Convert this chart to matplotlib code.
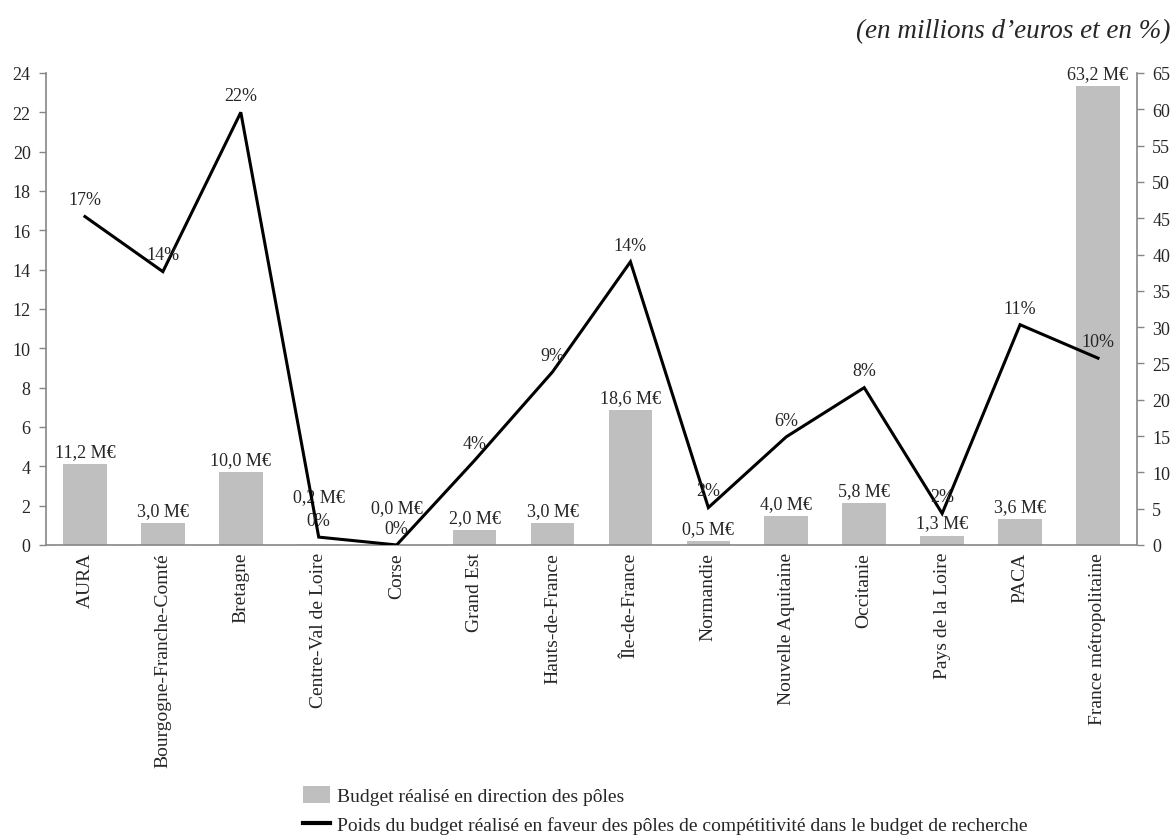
import matplotlib.pyplot as plt
from matplotlib.patches import Patch
from matplotlib.lines import Line2D

plt.rcParams['font.family'] = ['Liberation Serif', 'DejaVu Serif']

regions = ["AURA", "Bourgogne-Franche-Comté", "Bretagne", "Centre-Val de Loire", "Corse",
           "Grand Est", "Hauts-de-France", "Île-de-France", "Normandie", "Nouvelle Aquitaine",
           "Occitanie", "Pays de la Loire", "PACA", "France métropolitaine"]
# budget réalisé (M€), axe de droite
budget = [11.2, 3.0, 10.0, 0.2, 0.0, 2.0, 3.0, 18.6, 0.5, 4.0, 5.8, 1.3, 3.6, 63.2]
# poids dans le budget de recherche (%), axe de gauche
poids = [16.7, 13.9, 22.0, 0.4, 0.0, 4.3, 8.8, 14.4, 1.9, 5.5, 8.0, 1.6, 11.2, 9.5]
poids_labels = ["17%", "14%", "22%", "0%", "0%", "4%", "9%", "14%", "2%", "6%", "8%", "2%", "11%", "10%"]

grey = "#BFBFBF"
spine = "#868686"
txt = "#262626"

fig = plt.figure(figsize=(11.76, 8.37), dpi=100)
ax = fig.add_axes([0.0391, 0.3477, 0.9277, 0.5639])
ax2 = ax.twinx()

x = list(range(len(regions)))
ax2.bar(x, budget, width=0.56, color=grey, zorder=1)
ax.plot(x, poids, color="black", lw=2.2, solid_joinstyle="miter", zorder=3)

ax.set_zorder(ax2.get_zorder() + 1)
ax.patch.set_visible(False)

ax.set_xlim(-0.5, len(regions) - 0.5)
ax.set_ylim(0, 24)
ax.set_yticks(range(0, 25, 2))
ax2.set_ylim(0, 65)
ax2.set_yticks(range(0, 66, 5))

for a in (ax, ax2):
    for s in a.spines.values():
        s.set_visible(False)
    a.tick_params(axis="y", length=5, width=1, color=spine, labelsize=13, labelcolor=txt, pad=6)
ax.spines["left"].set_visible(True)
ax.spines["bottom"].set_visible(True)
ax2.spines["right"].set_visible(True)
for s in (ax.spines["left"], ax.spines["bottom"], ax2.spines["right"]):
    s.set_color(spine)
    s.set_linewidth(1.2)

ax.set_xticks(x)
ax.set_xticklabels(regions, rotation=90, fontsize=14, color=txt)
ax.tick_params(axis="x", length=0, pad=5)

for i, (v, lab) in enumerate(zip(poids, poids_labels)):
    ax.annotate(lab, (i, v), xytext=(0, 12), textcoords="offset points",
                ha="center", va="center", fontsize=13, color=txt, zorder=4)

# étiquettes des petites barres remontées au-dessus des pourcentages
lift = {3: 34, 4: 27}
for i, b in enumerate(budget):
    ax2.annotate(f"{b:.1f}".replace(".", ",") + " M€", (i, b), xytext=(0, lift.get(i, 9)),
                 textcoords="offset points", ha="center", va="center", fontsize=13, color=txt)

fig.text(0.995, 0.962, "(en millions d’euros et en %)", ha="right", va="center",
         fontsize=19.5, style="italic", color=txt)

handles = [Patch(facecolor=grey, edgecolor="none"),
           Line2D([0], [0], color="black", lw=3)]
labels = ["Budget réalisé en direction des pôles",
          "Poids du budget réalisé en faveur des pôles de compétitivité dans le budget de recherche"]
fig.legend(handles, labels, loc="upper left", bbox_to_anchor=(0.2577, 0.0598), frameon=False,
           fontsize=14, handlelength=1.4, handleheight=1.0, handletextpad=0.36,
           labelspacing=0.5, borderaxespad=0, borderpad=0, labelcolor=txt)

fig.savefig("out.png", dpi=100)
